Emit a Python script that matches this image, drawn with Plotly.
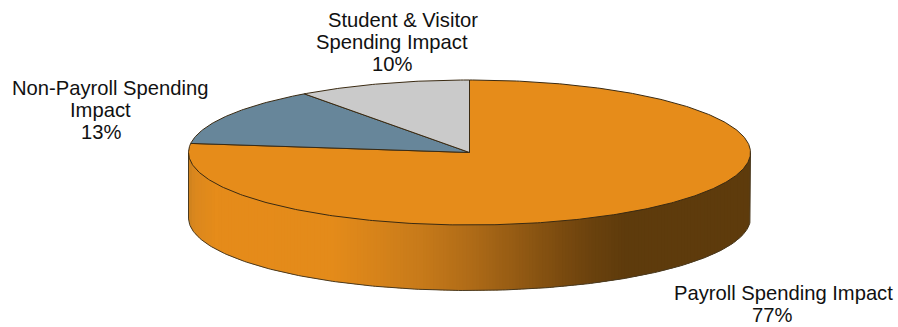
import numpy as np
import plotly.graph_objects as go

# Shares of total impact, drawn clockwise from twelve o'clock
categories = ["Payroll Spending Impact", "Non-Payroll Spending Impact", "Student & Visitor Spending Impact"]
shares = [77, 13, 10]
slice_colors = ["#E68C1A", "#67869A", "#CACACA"]

# Wrapped name lines for each slice label
label_lines = [
    ["Payroll Spending Impact"],
    ["Non-Payroll Spending", "Impact"],
    ["Student & Visitor", "Spending Impact"],
]

# Disc geometry in page pixels (the axes below span the page one to one)
CX, CY, RX, RY, DEPTH = 469.5, 152.5, 281.0, 72.5, 65.5
OUTLINE = "#3A2A12"

# Side-wall shading: horizontal position as a fraction of the disc width -> colour
shade_pos = [0.0, 0.012, 0.05, 0.26, 0.34, 0.42, 0.50, 0.58, 0.66, 0.72, 0.78, 1.0]
shade_rgb = [(205, 130, 30), (220, 136, 30), (230, 140, 26), (228, 139, 26), (214, 131, 27), (198, 122, 26),
             (176, 108, 24), (150, 92, 20), (124, 76, 16), (106, 66, 14), (94, 59, 12), (94, 59, 12)]


def rim_point(frac):
    a = 2 * np.pi * np.asarray(frac, dtype=float)
    return CX + RX * np.sin(a), CY - RY * np.cos(a)


def rim_y(x):
    return CY + RY * np.sqrt(np.clip(1 - ((x - CX) / RX) ** 2, 0, 1))


fig = go.Figure()

# Side wall, built from narrow vertical strips so the shading varies across it.
# Each strip runs under its right-hand neighbour to hide seams.
edges = np.linspace(CX - RX, CX + RX, 171)
for x0, x1 in zip(edges[:-1], edges[1:]):
    t = ((x0 + x1) / 2 - (CX - RX)) / (2 * RX)
    rgb = [np.interp(t, shade_pos, [c[i] for c in shade_rgb]) for i in range(3)]
    color = "rgb(%d,%d,%d)" % tuple(int(v) for v in rgb)
    xs = np.linspace(x0, min(x1 + 2.0, CX + RX), 6)
    top = rim_y(xs)
    fig.add_trace(go.Scatter(
        x=np.r_[xs, xs[::-1]], y=np.r_[top - 1, (top + DEPTH)[::-1]],
        mode="lines", fill="toself", fillcolor=color, line=dict(width=0),
        hoverinfo="skip", showlegend=False))

# Outline of the side wall
fx = np.linspace(0.25, 0.75, 241)
ox, oy = rim_point(fx)
fig.add_trace(go.Scatter(
    x=np.r_[ox[0], ox, ox[-1]], y=np.r_[CY, oy + DEPTH, CY],
    mode="lines", line=dict(color="#4A3A20", width=1),
    hoverinfo="skip", showlegend=False))

# Top face: one sector per share
start = 0.0
total = sum(shares)
for share, color in zip(shares, slice_colors):
    span = share / total
    f = np.linspace(start, start + span, max(int(share * 6), 20))
    ex, ey = rim_point(f)
    fig.add_trace(go.Scatter(
        x=np.r_[CX, ex, CX], y=np.r_[CY, ey, CY],
        mode="lines", fill="toself", fillcolor=color,
        line=dict(color=OUTLINE, width=1),
        hoverinfo="skip", showlegend=False))
    start += span

# Slice labels, one annotation per line so the leading stays tight
name_x = [[783], [110, 100], [403, 392]]
pct_x = [772, 101, 392]
first_y = [293, 88, 19.5]
LEADING = 22
for lines, xs, px, y0, share in zip(label_lines, name_x, pct_x, first_y, shares):
    texts = lines + [f"{share}%"]
    for i, (txt, lx) in enumerate(zip(texts, xs + [px])):
        fig.add_annotation(
            x=lx, y=y0 + i * LEADING, text=txt, showarrow=False,
            xanchor="center", yanchor="middle", align="center",
            font=dict(family="Liberation Sans, Arial, sans-serif", size=20.2, color="#111111"))

fig.update_layout(
    width=898, height=327, margin=dict(l=0, r=0, t=0, b=0),
    paper_bgcolor="white", plot_bgcolor="white", showlegend=False,
    xaxis=dict(range=[0, 898], visible=False, fixedrange=True),
    yaxis=dict(range=[327, 0], visible=False, fixedrange=True),
)
fig.write_html("out.html", config={"displayModeBar": False})
